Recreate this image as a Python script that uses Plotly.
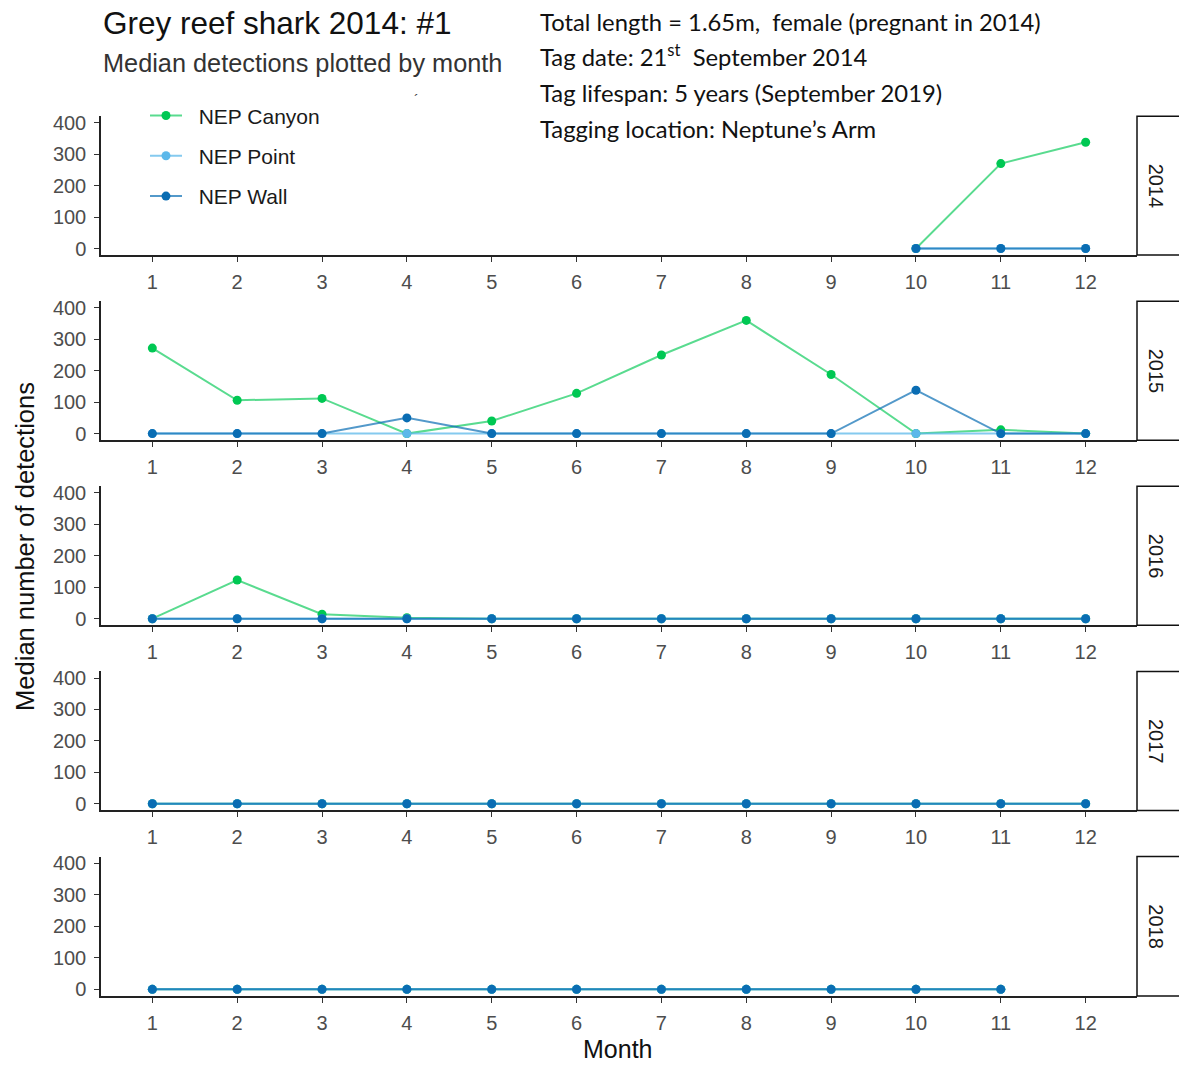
import plotly.graph_objects as go
from plotly.subplots import make_subplots

W, H = 1179, 1065

years = ["2014", "2015", "2016", "2017", "2018"]
sites = ["NEP Canyon", "NEP Point", "NEP Wall"]
month_ticks = list(range(1, 13))
y_ticks = [0, 100, 200, 300, 400]

months_2014 = [10, 11, 12]
canyon_2014 = [0, 270, 338]
point_2014 = [0, 0, 0]
wall_2014 = [0, 0, 0]

months_2015 = list(range(1, 13))
canyon_2015 = [272, 106, 112, 0, 40, 128, 250, 360, 188, 0, 12, 0]
point_2015 = [0, 0, 0, 0, 0, 0, 0, 0, 0, 0, 0, 0]
wall_2015 = [0, 0, 0, 50, 0, 0, 0, 0, 0, 138, 0, 0]

months_2016 = list(range(1, 13))
canyon_2016 = [0, 123, 14, 3, 0, 0, 0, 0, 0, 0, 0, 0]
point_2016 = [0, 0, 0, 0, 0, 0, 0, 0, 0, 0, 0, 0]
wall_2016 = [0, 0, 0, 0, 0, 0, 0, 0, 0, 0, 0, 0]

months_2017 = list(range(1, 13))
canyon_2017 = [0] * 12
point_2017 = [0] * 12
wall_2017 = [0] * 12

months_2018 = list(range(1, 12))
canyon_2018 = [0] * 11
point_2018 = [0] * 11
wall_2018 = [0] * 11

data = {
    "2014": (months_2014, canyon_2014, point_2014, wall_2014),
    "2015": (months_2015, canyon_2015, point_2015, wall_2015),
    "2016": (months_2016, canyon_2016, point_2016, wall_2016),
    "2017": (months_2017, canyon_2017, point_2017, wall_2017),
    "2018": (months_2018, canyon_2018, point_2018, wall_2018),
}

marker_colors = {"NEP Canyon": "#00c853", "NEP Point": "#5cb8ea", "NEP Wall": "#0a6db3"}
line_colors = {"NEP Canyon": "rgba(0,200,83,0.65)", "NEP Point": "rgba(92,184,234,0.75)",
               "NEP Wall": "rgba(10,109,179,0.7)"}

# panel pixel extents (top, bottom)
panels_px = [(113, 253), (299.5, 439.5), (486, 626), (672.5, 812.5), (859, 999.5)]
x0_px, x1_px = 101, 1137

ARIAL = "Liberation Sans, Arial, sans-serif"
NBSP = "\u00a0\u00a0"

fig = make_subplots(rows=5, cols=1)

for i, yr in enumerate(years):
    m, c, p, w = data[yr]
    for name, vals in zip(sites, (c, p, w)):
        fig.add_trace(go.Scatter(
            x=m, y=vals, mode="lines+markers", name=NBSP + name,
            legendgroup=name, showlegend=(i == 0),
            line=dict(color=line_colors[name], width=2),
            marker=dict(color=marker_colors[name], size=9),
        ), row=i + 1, col=1)

axis_font = dict(family=ARIAL, size=20, color="#4d4d4d")
for i, (top, bot) in enumerate(panels_px):
    dom = [1 - bot / H, 1 - top / H]
    fig.update_yaxes(domain=dom, range=[-21, 421], tickvals=y_ticks,
                     showline=True, linecolor="#222", linewidth=1.5,
                     ticks="outside", ticklen=5, tickcolor="#333", tickwidth=1,
                     ticklabelstandoff=4,
                     showgrid=False, zeroline=False, tickfont=axis_font,
                     row=i + 1, col=1)
    fig.update_xaxes(domain=[x0_px / W, x1_px / W], range=[0.395, 12.605],
                     tickvals=month_ticks,
                     showline=True, linecolor="#222", linewidth=1.5,
                     ticks="outside", ticklen=5, tickcolor="#333", tickwidth=1,
                     ticklabelstandoff=3,
                     showgrid=False, zeroline=False, tickfont=axis_font,
                     row=i + 1, col=1)
    # strip box
    fig.add_shape(type="rect", xref="paper", yref="paper",
                  x0=x1_px / W, x1=1.02, y0=dom[0], y1=dom[1],
                  line=dict(color="#111", width=1.5), fillcolor="white")
    fig.add_annotation(xref="paper", yref="paper", x=1156 / W, y=(dom[0] + dom[1]) / 2,
                       xanchor="center", yanchor="middle",
                       text=years[i], textangle=90, showarrow=False,
                       font=dict(family=ARIAL, size=20, color="#1a1a1a"))

# titles
fig.add_annotation(xref="paper", yref="paper", x=101 / W, y=1 - 19 / H, xanchor="left", yanchor="middle",
                   text="Grey reef shark 2014: #1", showarrow=False,
                   font=dict(family=ARIAL, size=31.5, color="#111"))
fig.add_annotation(xref="paper", yref="paper", x=101 / W, y=1 - 59 / H, xanchor="left", yanchor="middle",
                   text="Median detections plotted by month", showarrow=False,
                   font=dict(family=ARIAL, size=25.3, color="#333"))
fig.add_annotation(xref="paper", yref="paper", x=416 / W, y=1 - 97 / H, xanchor="center", yanchor="middle",
                   text="\u00b4", showarrow=False,
                   font=dict(family=ARIAL, size=14, color="#333"))

info_lines = [
    "Total length = 1.65m,  female (pregnant in 2014)",
    "Tag date: 21<sup>st</sup>  September 2014",
    "Tag lifespan: 5 years (September 2019)",
    "Tagging location: Neptune\u2019s Arm",
]
for k, (txt, ypx) in enumerate(zip(info_lines, [18, 52, 90, 126])):
    fig.add_annotation(xref="paper", yref="paper", x=538 / W, y=1 - ypx / H, xanchor="left", yanchor="middle",
                       text=txt, showarrow=False,
                       font=dict(family="Lato, sans-serif", size=23.8, color="#111"))

fig.add_annotation(xref="paper", yref="paper", x=25 / W, y=1 - 547 / H, xanchor="center", yanchor="middle",
                   text="Median number of detections", textangle=-90, showarrow=False,
                   font=dict(family=ARIAL, size=25.5, color="#111"))
fig.add_annotation(xref="paper", yref="paper", x=617 / W, y=1 - 1053 / H, xanchor="center", yanchor="middle",
                   text="Month", showarrow=False,
                   font=dict(family=ARIAL, size=25, color="#111"))

fig.update_layout(
    width=W, height=H, autosize=False,
    margin=dict(l=0, r=0, t=0, b=0),
    paper_bgcolor="white", plot_bgcolor="white",
    legend=dict(x=145 / W, y=1 - 92 / H, xanchor="left", yanchor="top",
                bgcolor="rgba(0,0,0,0)", traceorder="grouped", tracegroupgap=10,
                itemwidth=32,
                font=dict(family=ARIAL, size=21, color="#1a1a1a")),
)

fig.write_html("out.html")
